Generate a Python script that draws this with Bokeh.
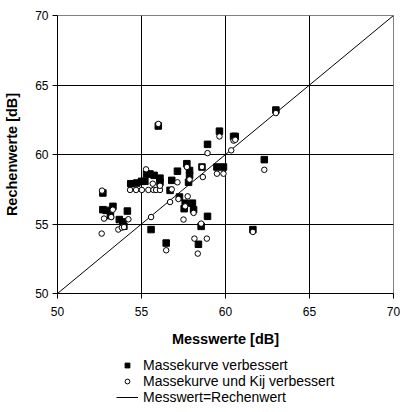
from bokeh.plotting import figure
from bokeh.layouts import column
from bokeh.models import Range1d, Legend, LegendItem, FixedTicker
from bokeh.embed import file_html
from bokeh.resources import INLINE

# Massekurve verbessert (squares)
sq_x = [52.7, 52.7, 52.9, 53.3, 53.15, 53.68, 53.89, 53.95, 54.16, 54.36, 54.72,
        55.0, 55.2, 55.3, 55.5, 55.75, 56.1, 56.1, 56.0, 55.57, 56.47, 56.7, 56.8,
        57.14, 57.7, 57.26, 57.54, 57.6, 57.86, 57.86, 57.8, 58.03, 58.1, 58.93,
        58.55, 58.39, 58.6, 59.49, 59.88, 58.93, 59.64, 60.48, 60.58, 62.31, 61.63, 63.0]
sq_y = [57.23, 56.03, 55.98, 56.27, 55.6, 55.32, 55.15, 54.84, 55.93, 57.9, 57.95,
        58.07, 58.07, 58.6, 58.6, 58.5, 58.3, 58.0, 62.05, 54.6, 53.63, 57.42, 58.14,
        58.8, 59.34, 56.94, 56.1, 56.5, 58.85, 58.5, 58.0, 56.5, 56.03, 55.55,
        54.83, 53.54, 59.1, 59.1, 59.1, 60.73, 61.68, 61.3, 61.3, 59.63, 54.6, 63.2]

# Massekurve und Kij verbessert (circles)
ci_x = [52.65, 52.77, 52.63, 53.29, 53.2, 53.62, 53.83, 53.96, 54.22, 54.32, 54.68,
        55.02, 55.27, 55.41, 55.67, 55.71, 55.87, 56.1, 56.1, 56.0, 55.57, 56.47,
        56.7, 56.8, 57.14, 57.7, 57.75, 57.5, 57.6, 57.2, 58.1, 57.86, 58.55, 58.15,
        58.89, 58.35, 58.6, 58.65, 59.49, 59.88, 58.93, 59.64, 60.48, 60.58, 60.34,
        62.31, 61.63, 63.0]
ci_y = [57.4, 55.39, 54.31, 56.03, 55.5, 54.6, 54.74, 54.78, 55.34, 57.45, 57.45,
        57.45, 58.93, 57.45, 57.9, 57.45, 57.45, 57.45, 57.75, 62.2, 55.5, 53.11,
        56.58, 57.49, 58.0, 59.1, 56.99, 55.32, 56.27, 56.8, 55.8, 58.2, 55.03, 53.95,
        53.95, 52.87, 59.1, 58.38, 58.62, 58.62, 60.1, 61.3, 61.0, 61.06, 60.3,
        58.9, 54.43, 62.98]

# Messwert = Rechenwert
diag_x = [50, 70]
diag_y = [50, 70]

ticks = [50, 55, 60, 65, 70]
labels = ["Massekurve verbessert", "Massekurve und Kij verbessert",
          "Messwert=Rechenwert"]
FONT = "Liberation Sans"
NAN = float("nan")

p = figure(width=400, height=352, output_backend="svg", toolbar_location=None,
           x_range=Range1d(50, 70), y_range=Range1d(50, 70),
           min_border_left=57, min_border_right=7, min_border_top=15,
           min_border_bottom=59)

p.background_fill_color = "white"
p.border_fill_color = "white"
p.outline_line_color = "#808080"
p.outline_line_width = 1

for ax in (p.xaxis[0], p.yaxis[0]):
    ax.ticker = FixedTicker(ticks=ticks)
    ax.axis_line_color = "black"
    ax.major_tick_line_color = "black"
    ax.major_tick_out = 5
    ax.major_tick_in = 0
    ax.minor_tick_line_color = None
    ax.major_label_text_font = FONT
    ax.major_label_text_font_size = "12px"
    ax.major_label_text_color = "black"
    ax.axis_label_text_font = FONT
    ax.axis_label_text_font_style = "bold"
    ax.axis_label_text_font_size = "14.5px"
    ax.axis_label_text_color = "black"

p.xaxis.axis_label = "Messwerte [dB]"
p.yaxis.axis_label = "Rechenwerte [dB]"
p.xaxis.major_label_standoff = 8
p.yaxis.major_label_standoff = 4
p.xaxis.axis_label_standoff = 12
p.yaxis.axis_label_standoff = 12

p.grid.ticker = FixedTicker(ticks=ticks)
p.grid.grid_line_color = "black"
p.grid.grid_line_width = 1

p.line(diag_x, diag_y, line_color="black", line_width=1)
p.scatter(sq_x, sq_y, marker="square", size=6.5, fill_color="black",
          line_color="black")
p.scatter(ci_x, ci_y, marker="circle", size=5.5, fill_color="white",
          line_color="black", line_width=1)

# legend strip below the chart (legend glyphs need one undrawn NaN row)
q = figure(width=400, height=60, output_backend="svg", toolbar_location=None,
           x_axis_type=None, y_axis_type=None,
           x_range=Range1d(0, 1), y_range=Range1d(0, 1),
           min_border=0, outline_line_color=None)
q.grid.visible = False
q.background_fill_color = "white"
q.border_fill_color = "white"
g_sq = q.scatter([NAN], [NAN], marker="square", size=6, fill_color="black",
                 line_color="black")
g_ci = q.scatter([NAN], [NAN], marker="circle", size=4.5, fill_color="white",
                 line_color="black", line_width=1)
g_ln = q.line([NAN, NAN], [NAN, NAN], line_color="black", line_width=1)

legend = Legend(items=[
    LegendItem(label=labels[0], renderers=[g_sq]),
    LegendItem(label=labels[1], renderers=[g_ci]),
    LegendItem(label=labels[2], renderers=[g_ln]),
], location=(59, 7), orientation="vertical")
legend.label_text_font = FONT
legend.label_text_font_size = "14px"
legend.label_text_color = "black"
legend.label_height = 12
legend.glyph_height = 12
legend.glyph_width = 22
legend.label_standoff = 5
legend.spacing = -6
legend.padding = 0
legend.margin = 0
legend.border_line_color = None
legend.background_fill_alpha = 0
q.add_layout(legend, "center")

open("out.html", "w").write(file_html(column(p, q, spacing=0), INLINE))
